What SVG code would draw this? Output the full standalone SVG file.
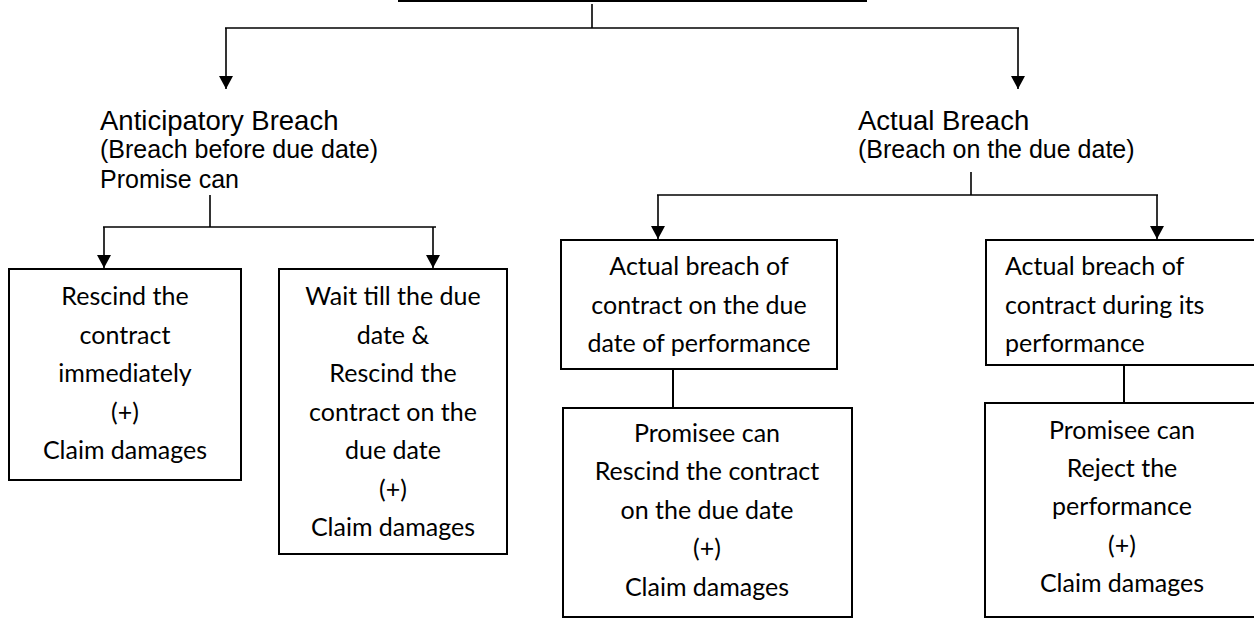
<svg xmlns="http://www.w3.org/2000/svg" width="1254" height="618" viewBox="0 0 1254 618">
  <style>
    .bg { fill: #ffffff; }
    .box { fill: #ffffff; stroke: #000000; stroke-width: 2; }
    .wire { fill: none; stroke: #000000; stroke-width: 1.6; }
    .head { font-family: "Liberation Sans", Arial, sans-serif; font-size: 27.5px; fill: #000000; }
    .sub { font-family: "Liberation Sans", Arial, sans-serif; font-size: 25px; fill: #000000; }
    .cell { font-family: Lato, "Noto Sans", sans-serif; font-size: 25px; fill: #000000; text-anchor: middle; }
    .cell-left { font-family: Lato, "Noto Sans", sans-serif; font-size: 25px; fill: #000000; }
  </style>
  <defs>
    <marker id="arrow" markerUnits="userSpaceOnUse" markerWidth="13" markerHeight="14" refX="13" refY="7" orient="auto">
      <path d="M0,0 L13,7 L0,14 Z" fill="#000000"/>
    </marker>
  </defs>

  <rect class="bg" x="0" y="0" width="1254" height="618"/>

  <!-- connectors -->
  <g id="connectors">
    <!-- root split -->
    <line class="wire" x1="398" y1="1" x2="867" y2="1" style="stroke-width:2"/>
    <line class="wire" x1="592" y1="4" x2="592" y2="28"/>
    <line class="wire" x1="225" y1="28" x2="1019" y2="28"/>
    <line class="wire" x1="226" y1="28" x2="226" y2="89" marker-end="url(#arrow)"/>
    <line class="wire" x1="1018" y1="28" x2="1018" y2="89" marker-end="url(#arrow)"/>

    <!-- anticipatory branch -->
    <line class="wire" x1="210" y1="195" x2="210" y2="227"/>
    <line class="wire" x1="103" y1="227" x2="436" y2="227"/>
    <line class="wire" x1="104" y1="227" x2="104" y2="268" marker-end="url(#arrow)"/>
    <line class="wire" x1="433" y1="227" x2="433" y2="268" marker-end="url(#arrow)"/>

    <!-- actual branch -->
    <line class="wire" x1="971" y1="172" x2="971" y2="195"/>
    <line class="wire" x1="657" y1="195" x2="1158" y2="195"/>
    <line class="wire" x1="658" y1="195" x2="658" y2="239" marker-end="url(#arrow)"/>
    <line class="wire" x1="1157" y1="195" x2="1157" y2="239" marker-end="url(#arrow)"/>

    <!-- remedies -->
    <line class="wire" x1="673" y1="369" x2="673" y2="408" style="stroke-width:2"/>
    <line class="wire" x1="1124" y1="365" x2="1124" y2="403" style="stroke-width:2"/>
  </g>

  <!-- headings -->
  <g id="anticipatory">
    <text class="head" x="100" y="130">Anticipatory Breach</text>
    <text class="sub" x="100" y="158">(Breach before due date)</text>
    <text class="sub" x="100" y="188">Promise can</text>
  </g>

  <g id="actual">
    <text class="head" x="858" y="130">Actual Breach</text>
    <text class="sub" x="858" y="158">(Breach on the due date)</text>
  </g>

  <!-- anticipatory remedies -->
  <g id="rescind-now">
    <rect class="box" x="9" y="269" width="232" height="211"/>
    <text class="cell" x="125" y="305">Rescind the</text>
    <text class="cell" x="125" y="343.5">contract</text>
    <text class="cell" x="125" y="382">immediately</text>
    <text class="cell" x="125" y="420.5">(+)</text>
    <text class="cell" x="125" y="459">Claim damages</text>
  </g>

  <g id="wait-due-date">
    <rect class="box" x="279" y="269" width="228" height="285"/>
    <text class="cell" x="393" y="305">Wait till the due</text>
    <text class="cell" x="393" y="343.5">date &amp;</text>
    <text class="cell" x="393" y="382">Rescind the</text>
    <text class="cell" x="393" y="420.5">contract on the</text>
    <text class="cell" x="393" y="459">due date</text>
    <text class="cell" x="393" y="497.5">(+)</text>
    <text class="cell" x="393" y="536">Claim damages</text>
  </g>

  <!-- actual breach kinds -->
  <g id="on-due-date">
    <rect class="box" x="561" y="240" width="276" height="129"/>
    <text class="cell" x="699" y="275">Actual breach of</text>
    <text class="cell" x="699" y="313.5">contract on the due</text>
    <text class="cell" x="699" y="352">date of performance</text>
  </g>

  <g id="rescind-on-due-date">
    <rect class="box" x="563" y="408" width="289" height="209"/>
    <text class="cell" x="707" y="441.5">Promisee can</text>
    <text class="cell" x="707" y="480">Rescind the contract</text>
    <text class="cell" x="707" y="518.5">on the due date</text>
    <text class="cell" x="707" y="557">(+)</text>
    <text class="cell" x="707" y="595.5">Claim damages</text>
  </g>

  <g id="during-performance">
    <rect class="box" x="986" y="240" width="280" height="125"/>
    <text class="cell-left" x="1005" y="275">Actual breach of</text>
    <text class="cell-left" x="1005" y="313.5">contract during its</text>
    <text class="cell-left" x="1005" y="352">performance</text>
  </g>

  <g id="reject-performance">
    <rect class="box" x="985" y="403" width="281" height="214"/>
    <text class="cell" x="1122" y="439">Promisee can</text>
    <text class="cell" x="1122" y="477">Reject the</text>
    <text class="cell" x="1122" y="515">performance</text>
    <text class="cell" x="1122" y="554">(+)</text>
    <text class="cell" x="1122" y="592">Claim damages</text>
  </g>
</svg>
